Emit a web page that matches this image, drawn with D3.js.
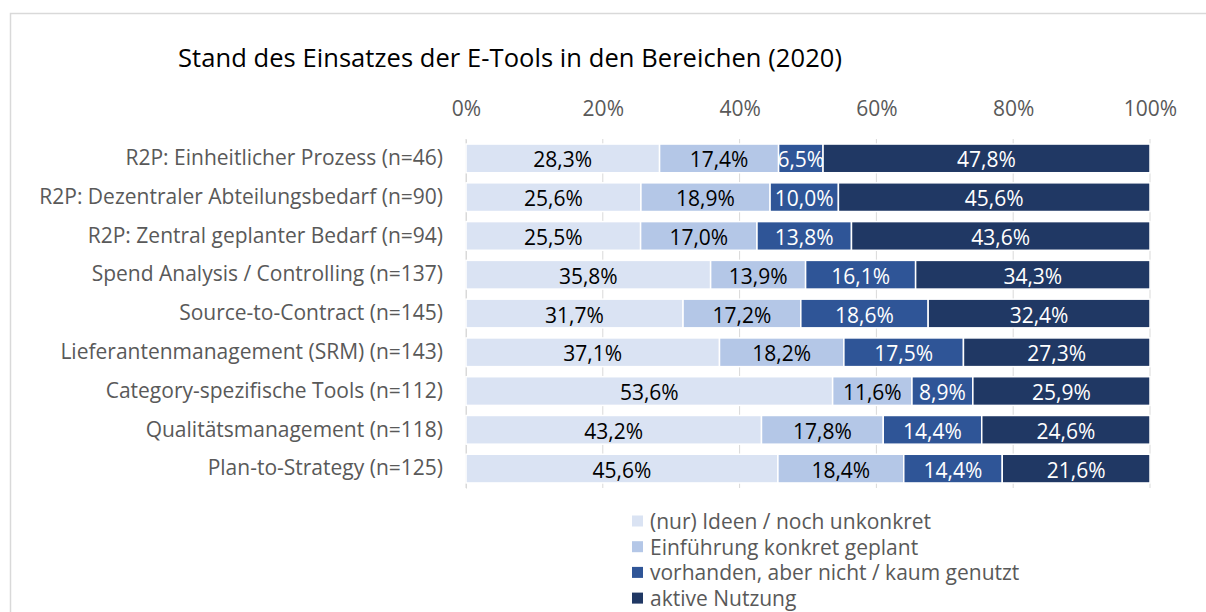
<!DOCTYPE html>
<html>
<head>
<meta charset="utf-8">
<script src="https://cdnjs.cloudflare.com/ajax/libs/d3/7.8.5/d3.min.js"></script>
<style>
body{margin:0;background:#fff}
</style>
</head>
<body>
<div id="viz"></div>
<script>
//Chart data
let categories = ["R2P: Einheitlicher Prozess (n=46)",
                  "R2P: Dezentraler Abteilungsbedarf (n=90)",
                  "R2P: Zentral geplanter Bedarf (n=94)",
                  "Spend Analysis / Controlling (n=137)",
                  "Source-to-Contract (n=145)",
                  "Lieferantenmanagement (SRM) (n=143)",
                  "Category-spezifische Tools (n=112)",
                  "Qualitätsmanagement (n=118)",
                  "Plan-to-Strategy (n=125)"]

let seriesNames = ["(nur) Ideen / noch unkonkret",
                   "Einführung konkret geplant",
                   "vorhanden, aber nicht / kaum genutzt",
                   "aktive Nutzung"]

let ideen     = [28.3, 25.6, 25.5, 35.8, 31.7, 37.1, 53.6, 43.2, 45.6]
let geplant   = [17.4, 18.9, 17.0, 13.9, 17.2, 18.2, 11.6, 17.8, 18.4]
let vorhanden = [ 6.5, 10.0, 13.8, 16.1, 18.6, 17.5,  8.9, 14.4, 14.4]
let aktiv     = [47.8, 45.6, 43.6, 34.3, 32.4, 27.3, 25.9, 24.6, 21.6]

let tickValues = [0, 20, 40, 60, 80, 100]

let colors = ["#dae3f3", "#b4c7e7", "#2f5597", "#203864"]
let labelColors = ["#000000", "#000000", "#ffffff", "#ffffff"]

//Layout
let width = 1206
let height = 612
let plotLeft = 466
let plotRight = 1150
let plotTop = 139
let plotBottom = 488
let font = "'Open Sans', sans-serif"

let svg = d3.select('#viz').append('svg').attr("width", width).attr("height", height)

//Outer frame
svg.append("rect").attr("x", 10.5).attr("y", 13.5).attr("width", 1200).attr("height", 620)
   .attr("fill", "#fff").attr("stroke", "#d9d9d9").attr("stroke-width", 1.5)

svg.append("text").text("Stand des Einsatzes der E-Tools in den Bereichen (2020)")
   .attr("x", 178).attr("y", 67).attr("font-family", font).attr("font-size", 25.5)
   .attr("textLength", 664).attr("fill", "#000")

//Build stacked rows (100% stacked, normalized per row)
let rows = categories.map((c, i) => {
    let vals = [ideen[i], geplant[i], vorhanden[i], aktiv[i]]
    let sum = d3.sum(vals)
    let x0 = 0
    return vals.map((v, k) => {
        let seg = {cat: c, k: k, v: v, x0: x0, x1: x0 + v / sum * 100, id: i * 4 + k}
        x0 = seg.x1
        return seg
    })
})

let x = d3.scaleLinear().domain([0, 100]).range([plotLeft, plotRight])
let y = d3.scaleBand().domain(categories).range([plotTop, plotBottom]).paddingInner(0.26).paddingOuter(0.13)

//Gridlines
svg.append("g").selectAll("line").data(tickValues).join("line")
   .attr("x1", d => x(d)).attr("x2", d => x(d)).attr("y1", plotTop).attr("y2", plotBottom)
   .attr("stroke", "#d9d9d9").attr("stroke-width", 1)

//Top axis labels
let xAxis = d3.axisTop(x).tickValues(tickValues).tickFormat(d => d + "%").tickSize(0).tickPadding(0)
let gx = svg.append("g").attr("transform", `translate(0,${116})`).call(xAxis)
gx.select(".domain").remove()
gx.selectAll("text").attr("font-family", font).attr("font-size", 21).attr("fill", "#595959")

//Left axis
let yAxis = d3.axisLeft(y).tickSize(0).tickPadding(23)
let gy = svg.append("g").attr("transform", `translate(${plotLeft},0)`).call(yAxis)
gy.select(".domain").attr("stroke", "#d9d9d9")
gy.selectAll("text").attr("font-family", font).attr("font-size", 21).attr("fill", "#595959")

//Bars
let segs = rows.flat()
let defs = svg.append("defs")
defs.selectAll("clipPath").data(segs).join("clipPath").attr("id", d => "seg" + d.id)
   .append("rect").attr("x", d => x(d.x0)).attr("y", d => y(d.cat))
   .attr("width", d => x(d.x1) - x(d.x0)).attr("height", y.bandwidth())

svg.append("g").selectAll("rect").data(segs).join("rect")
   .attr("x", d => x(d.x0)).attr("y", d => y(d.cat))
   .attr("width", d => x(d.x1) - x(d.x0)).attr("height", y.bandwidth())
   .attr("fill", d => colors[d.k]).attr("stroke", "#fff").attr("stroke-width", 1.5)

//Data labels
svg.append("g").selectAll("text").data(segs).join("text")
   .text(d => d.v.toFixed(1).replace(".", ",") + "%")
   .attr("clip-path", d => `url(#seg${d.id})`)
   .attr("x", d => (x(d.x0) + x(d.x1)) / 2).attr("y", d => y(d.cat) + y.bandwidth() / 2 + 1)
   .attr("text-anchor", "middle").attr("dominant-baseline", "central")
   .attr("font-family", font).attr("font-size", 21).attr("fill", d => labelColors[d.k])

//Legend
let legend = svg.append("g").selectAll("g").data(seriesNames).join("g")
   .attr("transform", (d, i) => `translate(632,${521 + i * 25.7})`)
legend.append("rect").attr("x", 0).attr("y", -5.5).attr("width", 11).attr("height", 11)
   .attr("fill", (d, i) => colors[i])
legend.append("text").text(d => d).attr("x", 18).attr("y", 0).attr("dominant-baseline", "central")
   .attr("font-family", font).attr("font-size", 21).attr("fill", "#595959")
</script>
</body>
</html>
